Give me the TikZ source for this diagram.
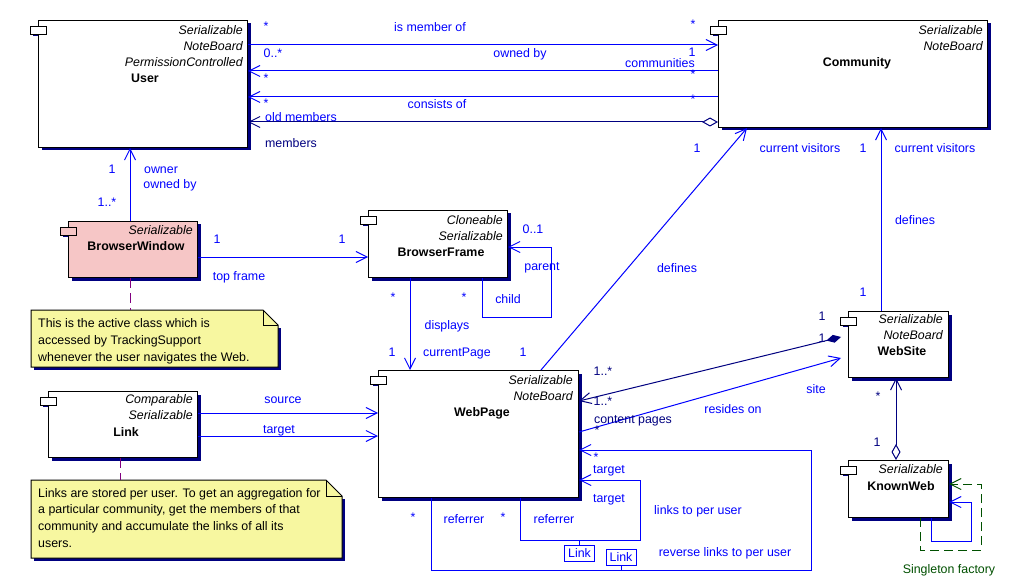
\documentclass[tikz,border=0pt]{standalone}
\usepackage{fontspec}
\setmainfont{Liberation Sans}
\usetikzlibrary{arrows.meta,shadows}
\definecolor{lblue}{RGB}{0,0,255}
\definecolor{navy}{RGB}{0,0,128}
\definecolor{noteyellow}{RGB}{247,247,160}
\definecolor{bwpink}{RGB}{246,198,198}
\definecolor{sgreen}{RGB}{0,80,0}
\definecolor{notepurple}{RGB}{128,0,128}
\tikzset{
  ob/.tip={Straight Barb[length=11pt,width=11pt,line width=1pt]},
  hd/.tip={Diamond[length=16pt,width=9pt,fill=white,line width=1pt]},
  fd/.tip={Diamond[length=15pt,width=8pt,line width=1pt]},
  cls/.style={draw=black, fill=white, line width=1pt, inner sep=0pt, anchor=north west,
     general shadow={fill=navy, shadow xshift=3pt, shadow yshift=-3pt}},
  icon/.style={draw=black, fill=white, line width=1pt, inner sep=0pt, minimum width=16pt, minimum height=8pt, anchor=north west},
  txt/.style={font=\fontsize{12.4}{14}\selectfont, inner sep=0pt, text height=8.9pt, text depth=0pt},
  lb/.style={txt, text=lblue},
  nb/.style={txt, text=navy},
  st/.style={text height=8.9pt, text depth=-4pt},
  ster/.style={txt, font=\fontsize{12.4}{14}\selectfont\itshape, anchor=east},
  cname/.style={txt, font=\fontsize{12.4}{14}\selectfont\bfseries},
  ntxt/.style={txt, anchor=west},
  assoc/.style={draw=lblue, line width=1pt},
  nassoc/.style={draw=navy, line width=1pt},
  tag/.style={draw=lblue, fill=white, line width=1pt, txt, text=lblue, minimum width=30pt, minimum height=16pt},
  notelink/.style={draw=notepurple, line width=1pt, dash pattern=on 10pt off 5pt},
  noteshape/.style={draw=black, fill=noteyellow, line width=1pt},
}
\begin{document}
\begin{tikzpicture}[x=1pt,y=-1pt]
\useasboundingbox (0,0) rectangle (1009,588);
\fill[white] (0,0) rectangle (1009,588);

% ---------- class boxes
\node[cls, minimum width=209pt, minimum height=127pt] (user) at (38,20) {};
\node[cls, minimum width=269pt, minimum height=107pt] (comm) at (718,20) {};
\node[cls, fill=bwpink, minimum width=129pt, minimum height=56pt] (bw) at (68,221) {};
\node[cls, minimum width=139pt, minimum height=67pt] (bf) at (368,210) {};
\node[cls, minimum width=200pt, minimum height=127pt] (wp) at (378,370) {};
\node[cls, minimum width=149pt, minimum height=66pt] (link) at (48,391) {};
\node[cls, minimum width=100pt, minimum height=66pt] (ws) at (848,311) {};
\node[cls, minimum width=100pt, minimum height=57pt] (kw) at (848,460) {};

% icon shadows
\foreach \b in {user,comm,bw,bf,wp,link,ws,kw}{
  \fill[navy] ([xshift=-5pt,yshift=-14pt]\b.north west) rectangle ([yshift=-16pt]\b.north west);
}
% component icons
\node[icon] (user-i) at ([xshift=-8pt,yshift=-6pt]user.north west) {};
\node[icon] (comm-i) at ([xshift=-8pt,yshift=-6pt]comm.north west) {};
\node[icon, fill=bwpink] (bw-i) at ([xshift=-8pt,yshift=-6pt]bw.north west) {};
\node[icon] (bf-i) at ([xshift=-8pt,yshift=-6pt]bf.north west) {};
\node[icon] (wp-i) at ([xshift=-8pt,yshift=-6pt]wp.north west) {};
\node[icon] (link-i) at ([xshift=-8pt,yshift=-6pt]link.north west) {};
\node[icon] (ws-i) at ([xshift=-8pt,yshift=-6pt]ws.north west) {};
\node[icon] (kw-i) at ([xshift=-8pt,yshift=-6pt]kw.north west) {};

% ---------- class texts
\node[ster] (u1) at (243,30) {Serializable};
\node[ster] (u2) at (243,46) {NoteBoard};
\node[ster] (u3) at (243,62) {PermissionControlled};
\node[cname] (u4) at (145,78) {User};
\node[ster] (c1) at (983,30) {Serializable};
\node[ster] (c2) at (983,46) {NoteBoard};
\node[cname] (c3) at (857,62) {Community};
\node[ster] (b1) at (193,230) {Serializable};
\node[cname] (b2) at (136,246) {BrowserWindow};
\node[ster] (f1) at (503,220) {Cloneable};
\node[ster] (f2) at (503,236) {Serializable};
\node[cname] (f3) at (441,252) {BrowserFrame};
\node[ster] (p1) at (573,380) {Serializable};
\node[ster] (p2) at (573,396) {NoteBoard};
\node[cname] (p3) at (482,412) {WebPage};
\node[ster] (k1) at (193,399) {Comparable};
\node[ster] (k2) at (193,415) {Serializable};
\node[cname] (k3) at (126,432) {Link};
\node[ster] (s1) at (943,319) {Serializable};
\node[ster] (s2) at (943,335) {NoteBoard};
\node[cname] (s3) at (902,351) {WebSite};
\node[ster] (w1) at (943,469) {Serializable};
\node[cname] (w2) at (901,486) {KnownWeb};

% ---------- User - Community associations
\draw[assoc, -ob] (user.east |- 0,45) -- (comm.west |- 0,45);
\draw[assoc, -ob] (comm.west |- 0,71) -- (user.east |- 0,71);
\draw[assoc, -ob] (comm.west |- 0,97) -- (user.east |- 0,97);
\draw[nassoc, hd-ob] (comm.west |- 0,122) -- (user.east |- 0,122);

% BrowserWindow -> User
\draw[assoc, -ob] (bw.north -| 130,0) -- (user.south -| 130,0);
% BrowserWindow -> BrowserFrame
\draw[assoc, -ob] (bw.east |- 0,257) -- (bf.west |- 0,257);
% BrowserFrame -> WebPage
\draw[assoc, -ob] (bf.south -| 410,0) -- (wp.north -| 410,0);
% BrowserFrame self loop
\draw[assoc, -ob] (bf.south -| 482,0) -- (482,317) -- (551,317) -- (551,247) -- (bf.east |- 0,247);
% Link -> WebPage
\draw[assoc, -ob] (link.east |- 0,413) -- (wp.west |- 0,413);
\draw[assoc, -ob] (link.east |- 0,436) -- (wp.west |- 0,436);
% WebPage -> Community
\draw[assoc, -ob] (wp.north -| 541,0) -- (comm.south -| 747,0);
% WebSite -> Community
\draw[assoc, -ob] (ws.north -| 881,0) -- (comm.south -| 881,0);
% WebSite - WebPage
\coordinate (wsl) at ([xshift=-7pt]ws.west);
\draw[nassoc, fd-ob] (wsl |- 0,337) -- (wp.east |- 0,401);
\draw[assoc, -ob] (wp.east |- 0,432) -- (wsl |- 0,358);
% KnownWeb - WebSite
\draw[nassoc, hd-ob] (kw.north -| 896,0) -- (ws.south -| 896,0);
% KnownWeb loops
\draw[sgreen, line width=1pt, dash pattern=on 9pt off 5pt, -ob] (kw.south -| 920,0) -- (920,550) -- (981,550) -- (981,484) -- (kw.east |- 0,484);
\draw[assoc, -ob] (kw.south -| 931,0) -- (931,541) -- (971,541) -- (971,502) -- (kw.east |- 0,502);
% WebPage loops
\draw[assoc, -ob] (wp.south -| 431,0) -- (431,570) -- (811,570) -- (811,450) -- (wp.east |- 0,450);
\draw[assoc, -ob] (wp.south -| 520,0) -- (520,540) -- (640,540) -- (640,480) -- (wp.east |- 0,480);
\node[tag] (tagA) at (621,557) {Link};
\node[tag] (tagB) at (579.5,553) {Link};
\draw[assoc] (tagA.south) -- (tagA.south |- 0,570);
\draw[assoc] (tagB.north) -- (tagB.north |- 0,540);

% ---------- notes
\fill[navy] (34,367) rectangle (281,370);
\fill[navy] (278,328) rectangle (281,370);
\path[noteshape] (31,310) -- (263,310) -- (278,325) -- (278,367) -- (31,367) -- cycle;
\draw[line width=1pt] (263,310) -- (263,325) -- (278,325);
\node[inner sep=0pt, minimum width=247pt, minimum height=57pt, anchor=north west] (note1) at (31,310) {};
\node[ntxt] (n11) at (38,323) {This is the active class which is};
\node[ntxt] (n12) at (38,340) {accessed by TrackingSupport};
\node[ntxt] (n13) at (38,357) {whenever the user navigates the Web.};

\fill[navy] (34,558) rectangle (345,561);
\fill[navy] (342,499) rectangle (345,561);
\path[noteshape] (31,480) -- (326,480) -- (342,496) -- (342,558) -- (31,558) -- cycle;
\draw[line width=1pt] (326,480) -- (326,496) -- (342,496);
\node[inner sep=0pt, minimum width=311pt, minimum height=78pt, anchor=north west] (note2) at (31,480) {};
\node[ntxt] (n21) at (38,493) {Links are stored per user. To get an aggregation for};
\node[ntxt] (n22) at (38,509) {a particular community, get the members of that};
\node[ntxt] (n23) at (38,526) {community and accumulate the links of all its};
\node[ntxt] (n24) at (38,543) {users.};

\draw[notelink] (bw.south -| 130,0) -- (note1.north -| 130,0);
\draw[notelink] (link.south -| 120,0) -- (note2.north -| 120,0);

% ---------- labels
\node[lb, st] (a1) at (266,26) {*};
\node[lb] (a2) at (430,27) {is member of};
\node[lb, st] (a3) at (693,24) {*};
\node[lb] (a4) at (273,53) {0..*};
\node[lb] (a5) at (520,53) {owned by};
\node[lb] (a6) at (692,52) {1};
\node[lb] (a7) at (660,63) {communities};
\node[lb, st] (a8) at (266,78) {*};
\node[lb, st] (a9) at (693,74) {*};
\node[lb, st] (a10) at (266,103) {*};
\node[lb] (a11) at (437,104) {consists of};
\node[lb, st] (a12) at (693,99) {*};
\node[lb] (a13) at (301,117) {old members};
\node[nb] (a14) at (291,143) {members};

\node[lb] (c4) at (697,148) {1};
\node[lb] (c5) at (800,148) {current visitors};
\node[lb] (c6) at (863,148) {1};
\node[lb] (c7) at (935,148) {current visitors};
\node[lb] (c8) at (677,268) {defines};
\node[lb] (c9) at (523,352) {1};
\node[lb] (c10) at (915,220) {defines};
\node[lb] (c11) at (863,292) {1};

\node[nb] (s4) at (822,316) {1};
\node[nb] (s5) at (822,338) {1};
\node[nb] (s6) at (603,371) {1..*};
\node[nb] (s7) at (603,401) {1..*};
\node[nb] (s8) at (633,419) {content pages};
\node[nb, st] (s9) at (597,430) {*};
\node[lb] (s10) at (733,409) {resides on};
\node[lb] (s11) at (816,389) {site};
\node[nb, st] (s12) at (878,396) {*};
\node[nb] (s13) at (877,442) {1};
\node[txt, text=sgreen] (s14) at (949,569) {Singleton factory};

\node[lb] (b3) at (112,169) {1};
\node[lb] (b4) at (161,169) {owner};
\node[lb] (b5) at (170,184) {owned by};
\node[lb] (b6) at (107,202) {1..*};
\node[lb] (b7) at (217,239) {1};
\node[lb] (b8) at (342,239) {1};
\node[lb] (b9) at (239,276) {top frame};

\node[lb, st] (f4) at (393,297) {*};
\node[lb, st] (f5) at (464,297) {*};
\node[lb] (f6) at (508,299) {child};
\node[lb] (f7) at (533,229) {0..1};
\node[lb] (f8) at (542,266) {parent};
\node[lb] (f9) at (447,325) {displays};
\node[lb] (f10) at (392,352) {1};
\node[lb] (f11) at (457,352) {currentPage};

\node[lb] (k4) at (283,399) {source};
\node[lb] (k5) at (279,429) {target};

\node[lb, st] (p4) at (413,517) {*};
\node[lb] (p5) at (464,519) {referrer};
\node[lb, st] (p6) at (503,517) {*};
\node[lb] (p7) at (554,519) {referrer};
\node[lb] (p8) at (609,469) {target};
\node[lb] (p9) at (609,498) {target};
\node[lb, st] (p10) at (596,457) {*};
\node[lb] (p11) at (698,510) {links to per user};
\node[lb] (p12) at (725,552) {reverse links to per user};
\end{tikzpicture}
\end{document}
